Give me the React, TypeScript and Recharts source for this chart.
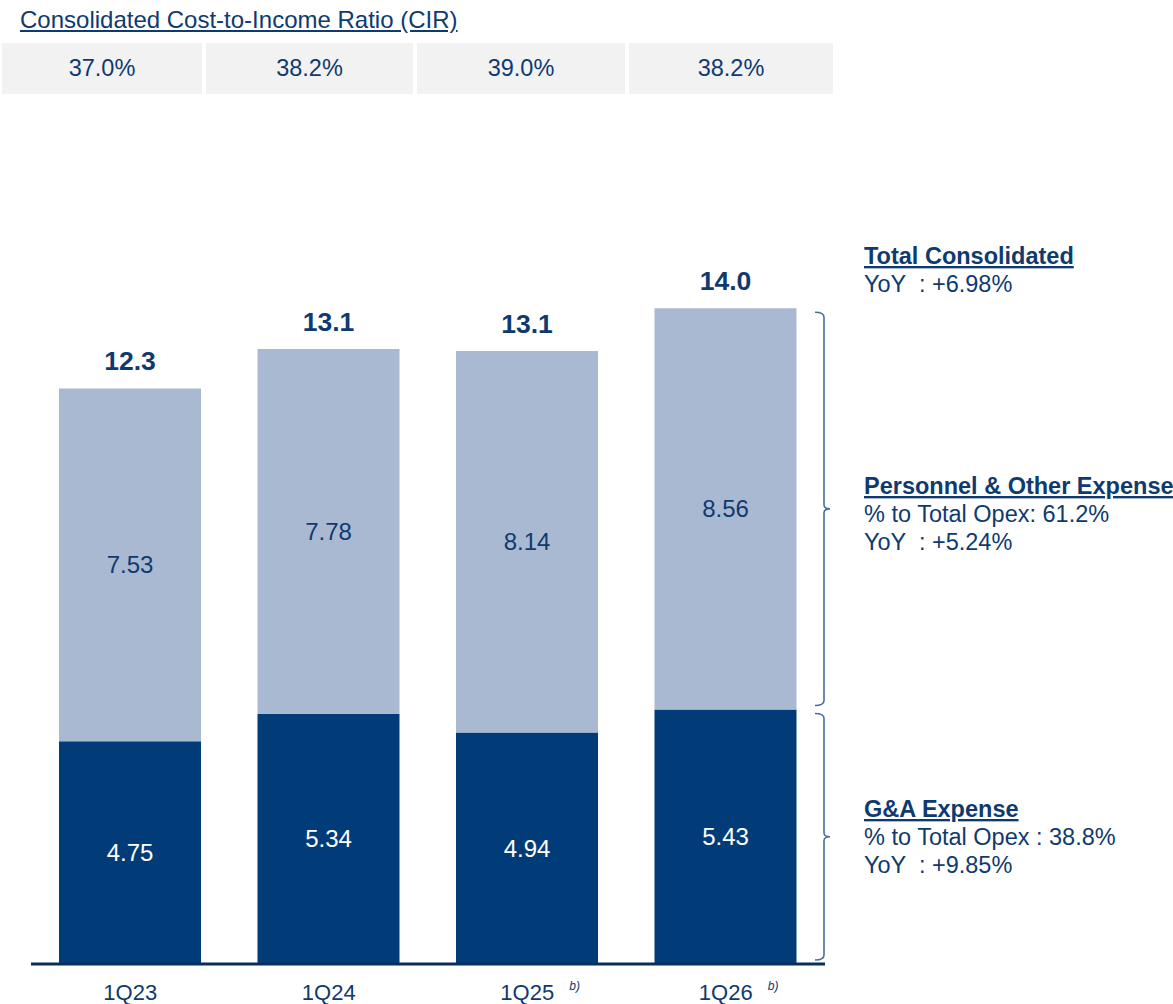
import { BarChart, Bar, XAxis, YAxis, LabelList, ReferenceArea } from "recharts";

const quarters = ["1Q23", "1Q24", "1Q25", "1Q26"];
const quarterNotes = ["", "", "b)", "b)"];
const gaExpense = [4.75, 5.34, 4.94, 5.43];
const personnelExpense = [7.53, 7.78, 8.14, 8.56];
const totalOpex = [12.3, 13.1, 13.1, 14.0];
const cirRatios = ["37.0%", "38.2%", "39.0%", "38.2%"];
const cirCellWidths = [200, 207, 208, 204];

const totalNotes = ["YoY  : +6.98%"];
const personnelNotes = ["% to Total Opex: 61.2%", "YoY  : +5.24%"];
const gaNotes = ["% to Total Opex : 38.8%", "YoY  : +9.85%"];

const NAVY = "#023c78";
const LIGHT = "#a9b9d2";
const TEXT = "#0f3a70";
const FONT = "Arial, 'Liberation Sans', sans-serif";

const data = quarters.map((q, i) => ({
  quarter: q,
  note: quarterNotes[i],
  ga: gaExpense[i],
  personnel: personnelExpense[i],
  total: totalOpex[i],
}));

const last = data.length - 1;

function QuarterTick(props: any) {
  const { x, y, payload } = props;
  const note = data.find((d) => d.quarter === payload.value)?.note;
  return (
    <g>
      <text x={x} y={y + 28} textAnchor="middle" fill={TEXT} fontSize={22} fontFamily={FONT}>
        {payload.value}
      </text>
      {note ? (
        <text x={x + 42} y={y + 18} fill={TEXT} fontSize={12} fontStyle="italic" fontFamily={FONT}>
          {note}
        </text>
      ) : null}
    </g>
  );
}

// bracket drawn on the right edge of a reference area
function Bracket(props: any) {
  const { x, y, width, height } = props;
  const r = x + width - 1;
  const top = y + 4;
  const bot = y + height - 4;
  const mid = (top + bot) / 2;
  const d =
    `M ${r - 9} ${top} Q ${r} ${top} ${r} ${top + 5} ` +
    `L ${r} ${mid - 4} Q ${r} ${mid} ${r + 6} ${mid} Q ${r} ${mid} ${r} ${mid + 4} ` +
    `L ${r} ${bot - 5} Q ${r} ${bot} ${r - 9} ${bot}`;
  return <path d={d} fill="none" stroke="#4a6f9f" strokeWidth={1.6} />;
}

function NoteBlock({ title, lines, y }: { title: string; lines: string[]; y: number }) {
  return (
    <g fontFamily={FONT} fill={TEXT} fontSize={23.5}>
      <text x={864} y={y} fontWeight="bold" textDecoration="underline">
        {title}
      </text>
      {lines.map((l, i) => (
        <text key={i} x={864} y={y + 28 * (i + 1)} xmlSpace="preserve">
          {l}
        </text>
      ))}
    </g>
  );
}

export default function App() {
  return (
    <div style={{ position: "absolute", left: 0, top: 0, width: 1173, height: 1004, background: "#fff", overflow: "hidden" }}>
      <div
        style={{
          position: "absolute",
          left: 20,
          top: 8,
          fontFamily: FONT,
          fontSize: 24,
          lineHeight: "24px",
          color: TEXT,
          textDecoration: "underline",
          whiteSpace: "nowrap",
        }}
      >
        Consolidated Cost-to-Income Ratio (CIR)
      </div>
      <div style={{ position: "absolute", left: 2, top: 43, display: "flex", gap: 4 }}>
        {cirRatios.map((c, i) => (
          <div
            key={i}
            style={{
              width: cirCellWidths[i],
              height: 51,
              background: "#f2f2f2",
              display: "flex",
              alignItems: "center",
              justifyContent: "center",
              fontFamily: FONT,
              fontSize: 23.5,
              color: TEXT,
            }}
          >
            {c}
          </div>
        ))}
      </div>

      <div style={{ position: "absolute", left: 0, top: 0 }}>
        <BarChart width={1173} height={1004} data={data} margin={{ top: 214, right: 348, left: 31, bottom: 0 }}>
          <XAxis
            dataKey="quarter"
            axisLine={{ stroke: "#0b2d5e", strokeWidth: 3 }}
            tickLine={false}
            height={40}
            interval={0}
            tick={<QuarterTick />}
          />
          <YAxis hide domain={[0, 16]} />
          <Bar dataKey="ga" stackId="opex" fill={NAVY} barSize={142} isAnimationActive={false}>
            <LabelList
              dataKey="ga"
              position="center"
              fill="#ffffff"
              fontSize={24}
              fontFamily={FONT}
              formatter={(v: any) => Number(v).toFixed(2)}
            />
          </Bar>
          <Bar dataKey="personnel" stackId="opex" fill={LIGHT} barSize={142} isAnimationActive={false}>
            <LabelList
              dataKey="personnel"
              position="center"
              fill={TEXT}
              fontSize={24}
              fontFamily={FONT}
              formatter={(v: any) => Number(v).toFixed(2)}
            />
            <LabelList
              dataKey="total"
              position="top"
              offset={18}
              fill={TEXT}
              fontSize={26.5}
              fontWeight="bold"
              fontFamily={FONT}
              formatter={(v: any) => Number(v).toFixed(1)}
            />
          </Bar>
          <ReferenceArea
            y1={data[last].ga}
            y2={data[last].ga + data[last].personnel}
            shape={<Bracket />}
            ifOverflow="visible"
          />
          <ReferenceArea y1={0} y2={data[last].ga} shape={<Bracket />} ifOverflow="visible" />
        </BarChart>
      </div>

      <svg width={1173} height={1004} style={{ position: "absolute", left: 0, top: 0, pointerEvents: "none" }}>
        <NoteBlock title="Total Consolidated" lines={totalNotes} y={264} />
        <NoteBlock title="Personnel & Other Expenses" lines={personnelNotes} y={494} />
        <NoteBlock title="G&A Expense" lines={gaNotes} y={817} />
      </svg>
    </div>
  );
}
